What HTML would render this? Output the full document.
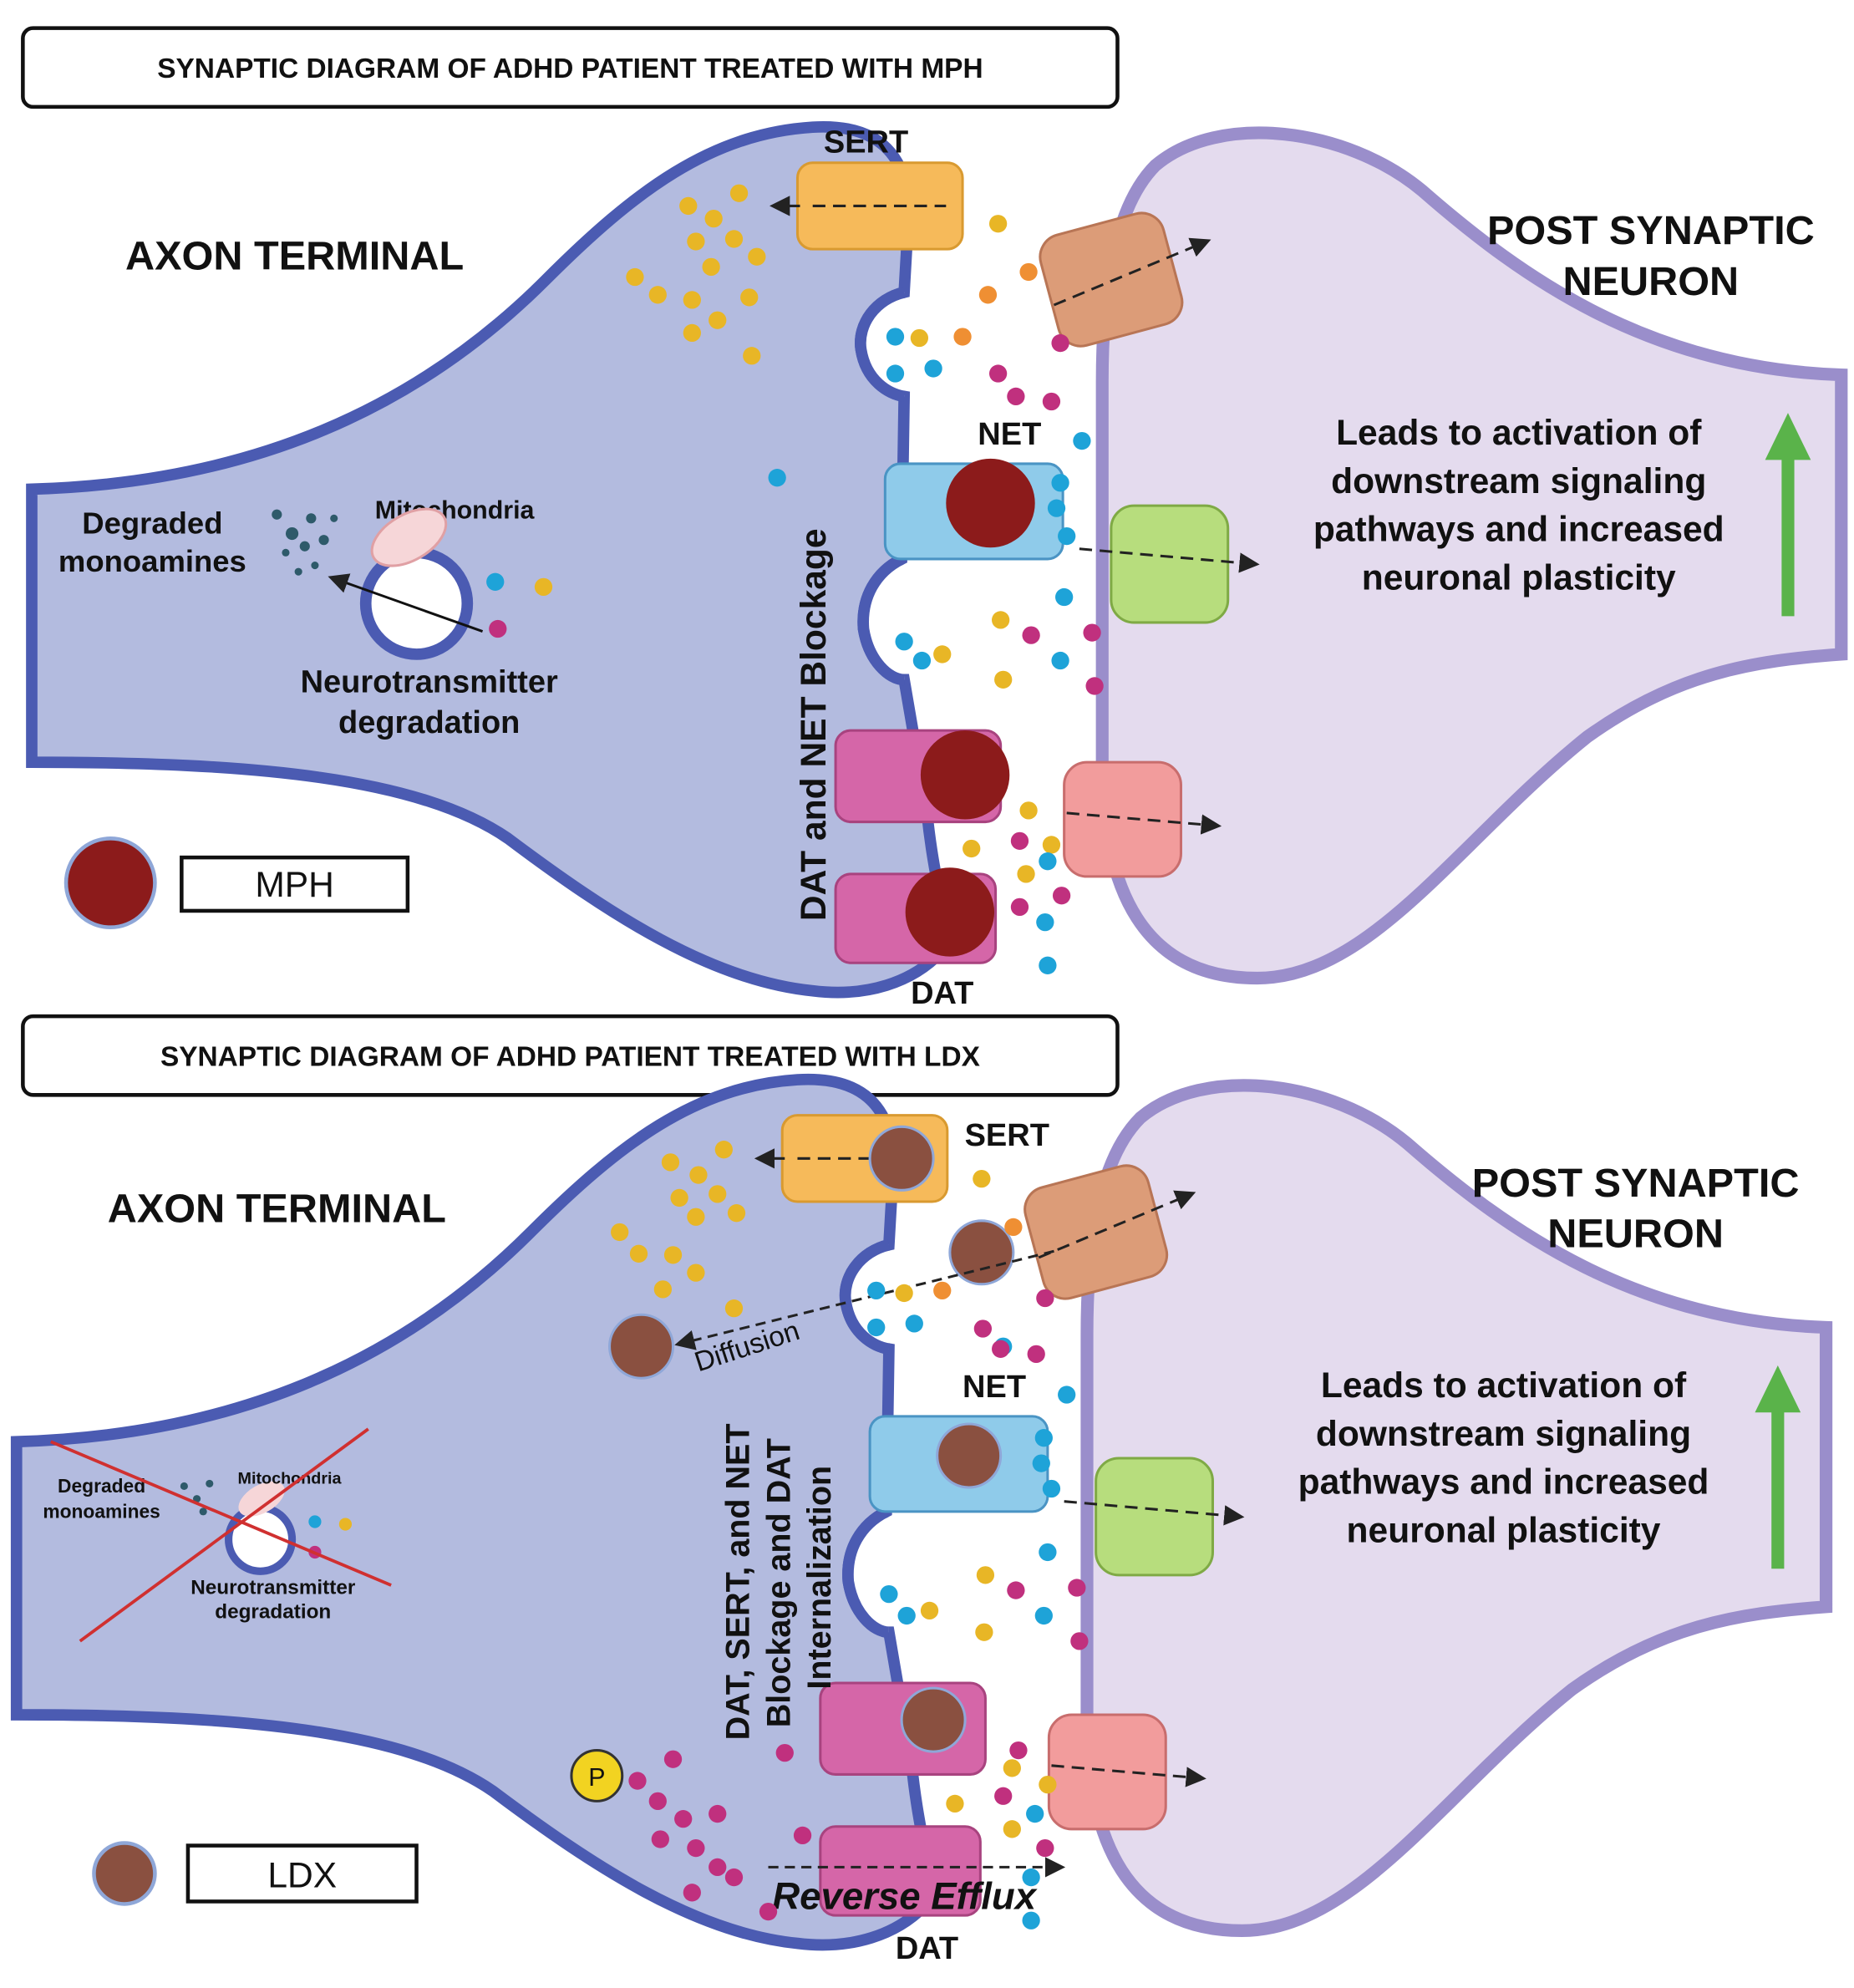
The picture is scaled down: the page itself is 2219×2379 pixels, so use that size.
<!DOCTYPE html>
<html><head><meta charset="utf-8"><style>
html,body{margin:0;padding:0;background:#fff}
svg{display:block}
text{font-family:"Liberation Sans",sans-serif;font-weight:bold;fill:#111}
</style></head><body>
<svg width="2219" height="2379" viewBox="0 0 1460 1565" xmlns="http://www.w3.org/2000/svg">
<defs>
<marker id="ah" markerWidth="8" markerHeight="8" refX="6" refY="4" orient="auto"><path d="M0,0 L8,4 L0,8 Z" fill="#222"/></marker>
<g id="axon">
<path d="M25,385 C200,380 330,320 430,220 C500,150 560,105 640,100 C690,97 712,120 716,160 L712,230 C690,235 675,255 678,275 C682,300 700,310 712,312 L710,440 C690,450 678,470 680,495 C684,520 700,535 712,535 L730,640 C735,690 745,720 745,745 C720,775 680,785 640,780 C560,772 480,720 400,660 C330,612 200,600 25,600 Z" fill="#b3bbdf" stroke="#4b5bb2" stroke-width="9"/>
<path d="M712,312 C700,310 682,300 678,275 C675,255 690,235 712,230" fill="#fff" stroke="#4b5bb2" stroke-width="9"/>
<path d="M712,535 C700,535 684,520 680,495 C678,470 690,450 710,440" fill="#fff" stroke="#4b5bb2" stroke-width="9"/>
<path d="M1450,295 C1300,290 1200,220 1120,150 C1060,100 960,88 910,130 C880,160 868,220 868,300 L868,600 C868,700 900,770 990,770 C1080,770 1150,660 1250,580 C1320,530 1380,520 1450,515 Z" fill="#e4dbee" stroke="#9a8ecb" stroke-width="10"/>
</g>
<g id="transp">
<rect x="628" y="128" width="130" height="68" rx="12" fill="#f6ba5a" stroke="#d99a30" stroke-width="2"/>
<line x1="640" y1="162" x2="745" y2="162" stroke="#222" stroke-width="2" stroke-dasharray="10,6"/>
<g transform="rotate(-15 875 220)"><rect x="825" y="175" width="100" height="90" rx="18" fill="#dc9c78" stroke="#b87555" stroke-width="2"/></g>
<line x1="830" y1="240" x2="950" y2="190" stroke="#222" stroke-width="2" stroke-dasharray="10,6" marker-end="url(#ah)"/>
<rect x="697" y="365" width="140" height="75" rx="12" fill="#8fcbea" stroke="#4a94c4" stroke-width="2"/>
<rect x="875" y="398" width="92" height="92" rx="18" fill="#b7dd7d" stroke="#7faa45" stroke-width="2"/>
<line x1="850" y1="432" x2="988" y2="444" stroke="#222" stroke-width="2" stroke-dasharray="10,6" marker-end="url(#ah)"/>
<rect x="658" y="575" width="130" height="72" rx="12" fill="#d566a8" stroke="#a8437f" stroke-width="2"/>
<rect x="838" y="600" width="92" height="90" rx="18" fill="#f29c9c" stroke="#c86d6d" stroke-width="2"/>
<line x1="840" y1="640" x2="958" y2="650" stroke="#222" stroke-width="2" stroke-dasharray="10,6" marker-end="url(#ah)"/>
<rect x="658" y="688" width="126" height="70" rx="12" fill="#d566a8" stroke="#a8437f" stroke-width="2"/>
<line x1="0" y1="0" x2="0" y2="0"/>
<path d="M630,162 L610,162" stroke="#222" stroke-width="2" marker-end="url(#ah)"/>
</g>
</defs>

<!-- PANEL 1 -->
<rect x="18" y="22" width="862" height="62" rx="8" fill="#fff" stroke="#111" stroke-width="3"/>
<text x="449" y="61" font-size="22" text-anchor="middle">SYNAPTIC DIAGRAM OF ADHD PATIENT TREATED WITH MPH</text>
<use href="#axon"/>
<use href="#transp"/>
<circle cx="780" cy="396" r="35" fill="#8c1b1b"/>
<circle cx="760" cy="610" r="35" fill="#8c1b1b"/>
<circle cx="748" cy="718" r="35" fill="#8c1b1b"/>
<text x="232" y="212" font-size="32" text-anchor="middle">AXON TERMINAL</text>
<text x="1300" y="192" font-size="32" text-anchor="middle">POST SYNAPTIC</text>
<text x="1300" y="232" font-size="32" text-anchor="middle">NEURON</text>
<text x="682" y="120" font-size="25" text-anchor="middle">SERT</text>
<text x="795" y="350" font-size="25" text-anchor="middle">NET</text>
<text x="742" y="790" font-size="25" text-anchor="middle">DAT</text>
<g font-size="28"><text x="1196" y="350" text-anchor="middle">Leads to activation of</text><text x="1196" y="388" text-anchor="middle">downstream signaling</text><text x="1196" y="426" text-anchor="middle">pathways and increased</text><text x="1196" y="464" text-anchor="middle">neuronal plasticity</text></g>
<path d="M1408,485 L1408,360" stroke="#5ab34a" stroke-width="10"/><path d="M1390,362 L1408,325 L1426,362 Z" fill="#5ab34a"/>
<text transform="translate(650,725) rotate(-90)" font-size="28">DAT and NET Blockage</text>
<text x="120" y="420" font-size="24" text-anchor="middle">Degraded</text>
<text x="120" y="450" font-size="24" text-anchor="middle">monoamines</text>
<text x="358" y="408" font-size="20" text-anchor="middle">Mitochondria</text>
<text x="338" y="545" font-size="25" text-anchor="middle">Neurotransmitter</text>
<text x="338" y="577" font-size="25" text-anchor="middle">degradation</text>
<circle cx="328" cy="475" r="40" fill="#fff" stroke="#4b5bb2" stroke-width="9"/>
<ellipse cx="322" cy="423" rx="32" ry="18" transform="rotate(-30 322 423)" fill="#f6d6d8" stroke="#e0a0a4" stroke-width="2"/>
<line x1="380" y1="497" x2="262" y2="455" stroke="#111" stroke-width="2" marker-end="url(#ah)"/>
<g fill="#2e5a6a"><circle cx="218" cy="405" r="4"/><circle cx="230" cy="420" r="5"/><circle cx="245" cy="408" r="4"/><circle cx="240" cy="430" r="4"/><circle cx="225" cy="435" r="3"/><circle cx="255" cy="425" r="4"/><circle cx="248" cy="445" r="3"/><circle cx="263" cy="408" r="3"/><circle cx="235" cy="450" r="3"/></g>
<circle cx="390" cy="458" r="7" fill="#1ea3d8"/><circle cx="428" cy="462" r="7" fill="#e8b626"/><circle cx="392" cy="495" r="7" fill="#c0307e"/><circle cx="612" cy="376" r="7" fill="#1ea3d8"/>
<circle cx="87" cy="695" r="35" fill="#8c1b1b" stroke="#8fa7d8" stroke-width="3"/>
<rect x="143" y="675" width="178" height="42" fill="#fff" stroke="#111" stroke-width="3"/>
<text x="232" y="706" font-size="28" font-weight="normal" text-anchor="middle" style="font-weight:normal">MPH</text>
<g fill="#e8b626"><circle cx="542" cy="162" r="7"/><circle cx="562" cy="172" r="7"/><circle cx="582" cy="152" r="7"/><circle cx="548" cy="190" r="7"/><circle cx="578" cy="188" r="7"/><circle cx="596" cy="202" r="7"/><circle cx="500" cy="218" r="7"/><circle cx="518" cy="232" r="7"/><circle cx="545" cy="236" r="7"/><circle cx="560" cy="210" r="7"/><circle cx="590" cy="234" r="7"/><circle cx="565" cy="252" r="7"/><circle cx="545" cy="262" r="7"/><circle cx="592" cy="280" r="7"/><circle cx="786" cy="176" r="7"/><circle cx="724" cy="266" r="7"/><circle cx="788" cy="488" r="7"/><circle cx="742" cy="515" r="7"/><circle cx="790" cy="535" r="7"/><circle cx="810" cy="638" r="7"/><circle cx="808" cy="688" r="7"/><circle cx="765" cy="668" r="7"/><circle cx="828" cy="665" r="7"/></g>
<g fill="#ef8f33"><circle cx="810" cy="214" r="7"/><circle cx="778" cy="232" r="7"/><circle cx="758" cy="265" r="7"/></g>
<g fill="#1ea3d8"><circle cx="705" cy="265" r="7"/><circle cx="705" cy="294" r="7"/><circle cx="735" cy="290" r="7"/><circle cx="852" cy="347" r="7"/><circle cx="835" cy="380" r="7"/><circle cx="832" cy="400" r="7"/><circle cx="840" cy="422" r="7"/><circle cx="838" cy="470" r="7"/><circle cx="835" cy="520" r="7"/><circle cx="712" cy="505" r="7"/><circle cx="726" cy="520" r="7"/><circle cx="825" cy="678" r="7"/><circle cx="823" cy="726" r="7"/><circle cx="825" cy="760" r="7"/></g>
<g fill="#c0307e"><circle cx="835" cy="270" r="7"/><circle cx="786" cy="294" r="7"/><circle cx="800" cy="312" r="7"/><circle cx="828" cy="316" r="7"/><circle cx="812" cy="500" r="7"/><circle cx="860" cy="498" r="7"/><circle cx="862" cy="540" r="7"/><circle cx="803" cy="662" r="7"/><circle cx="836" cy="705" r="7"/><circle cx="803" cy="714" r="7"/></g>

<!-- PANEL 2 -->
<rect x="18" y="800" width="862" height="62" rx="8" fill="#fff" stroke="#111" stroke-width="3"/>
<text x="449" y="839" font-size="22" text-anchor="middle">SYNAPTIC DIAGRAM OF ADHD PATIENT TREATED WITH LDX</text>
<g transform="translate(-12,750)"><use href="#axon"/><use href="#transp"/></g>
<circle cx="710" cy="912" r="25" fill="#8a5040" stroke="#8fa7d8" stroke-width="2"/>
<circle cx="773" cy="986" r="25" fill="#8a5040" stroke="#8fa7d8" stroke-width="2"/>
<circle cx="763" cy="1146" r="25" fill="#8a5040" stroke="#8fa7d8" stroke-width="2"/>
<circle cx="735" cy="1354" r="25" fill="#8a5040" stroke="#8fa7d8" stroke-width="2"/>
<circle cx="505" cy="1060" r="25" fill="#8a5040" stroke="#8fa7d8" stroke-width="2"/>
<line x1="830" y1="985" x2="535" y2="1058" stroke="#222" stroke-width="2" stroke-dasharray="8,5" marker-end="url(#ah)"/>
<text transform="translate(550,1080) rotate(-18)" font-size="22" style="font-weight:normal">Diffusion</text>
<text x="218" y="962" font-size="32" text-anchor="middle">AXON TERMINAL</text>
<text x="1288" y="942" font-size="32" text-anchor="middle">POST SYNAPTIC</text>
<text x="1288" y="982" font-size="32" text-anchor="middle">NEURON</text>
<text x="793" y="902" font-size="25" text-anchor="middle">SERT</text>
<text x="783" y="1100" font-size="25" text-anchor="middle">NET</text>
<text x="730" y="1542" font-size="25" text-anchor="middle">DAT</text>
<g font-size="28"><text x="1184" y="1100" text-anchor="middle">Leads to activation of</text><text x="1184" y="1138" text-anchor="middle">downstream signaling</text><text x="1184" y="1176" text-anchor="middle">pathways and increased</text><text x="1184" y="1214" text-anchor="middle">neuronal plasticity</text></g>
<path d="M1400,1235 L1400,1110" stroke="#5ab34a" stroke-width="10"/><path d="M1382,1112 L1400,1075 L1418,1112 Z" fill="#5ab34a"/>
<g font-size="26"><text transform="translate(590,1370) rotate(-90)">DAT, SERT, and NET</text><text transform="translate(622,1360) rotate(-90)">Blockage and DAT</text><text transform="translate(654,1330) rotate(-90)">Internalization</text></g>
<!-- small crossed diagram -->
<circle cx="205" cy="1212" r="25" fill="#fff" stroke="#4b5bb2" stroke-width="6"/>
<ellipse cx="206" cy="1180" rx="20" ry="11" transform="rotate(-30 206 1180)" fill="#f6d6d8"/>
<g fill="#2e5a6a"><circle cx="145" cy="1170" r="3"/><circle cx="155" cy="1180" r="3"/><circle cx="165" cy="1168" r="3"/><circle cx="160" cy="1190" r="3"/></g>
<circle cx="248" cy="1198" r="5" fill="#1ea3d8"/><circle cx="272" cy="1200" r="5" fill="#e8b626"/><circle cx="248" cy="1222" r="5" fill="#c0307e"/>
<text x="80" y="1175" font-size="15" text-anchor="middle">Degraded</text>
<text x="80" y="1195" font-size="15" text-anchor="middle">monoamines</text>
<text x="228" y="1168" font-size="13" text-anchor="middle">Mitochondria</text>
<text x="215" y="1255" font-size="16" text-anchor="middle">Neurotransmitter</text>
<text x="215" y="1274" font-size="16" text-anchor="middle">degradation</text>
<line x1="40" y1="1135" x2="308" y2="1248" stroke="#d03030" stroke-width="2.5"/>
<line x1="63" y1="1292" x2="290" y2="1125" stroke="#d03030" stroke-width="2.5"/>
<circle cx="98" cy="1475" r="24" fill="#8a5040" stroke="#8fa7d8" stroke-width="3"/>
<rect x="148" y="1453" width="180" height="44" fill="#fff" stroke="#111" stroke-width="3"/>
<text x="238" y="1486" font-size="28" text-anchor="middle" style="font-weight:normal">LDX</text>
<circle cx="470" cy="1398" r="20" fill="#f2d321" stroke="#333" stroke-width="2"/>
<text x="470" y="1406" font-size="20" text-anchor="middle" style="font-weight:normal">P</text>
<line x1="605" y1="1470" x2="835" y2="1470" stroke="#222" stroke-width="2" stroke-dasharray="8,5" marker-end="url(#ah)"/>
<text x="712" y="1503" font-size="30" font-style="italic" text-anchor="middle">Reverse Efflux</text>
<g fill="#e8b626"><circle cx="528" cy="915" r="7"/><circle cx="550" cy="925" r="7"/><circle cx="570" cy="905" r="7"/><circle cx="535" cy="943" r="7"/><circle cx="565" cy="940" r="7"/><circle cx="548" cy="958" r="7"/><circle cx="580" cy="955" r="7"/><circle cx="488" cy="970" r="7"/><circle cx="503" cy="987" r="7"/><circle cx="530" cy="988" r="7"/><circle cx="548" cy="1002" r="7"/><circle cx="522" cy="1015" r="7"/><circle cx="578" cy="1030" r="7"/><circle cx="773" cy="928" r="7"/><circle cx="712" cy="1018" r="7"/><circle cx="776" cy="1240" r="7"/><circle cx="732" cy="1268" r="7"/><circle cx="775" cy="1285" r="7"/><circle cx="797" cy="1392" r="7"/><circle cx="825" cy="1405" r="7"/><circle cx="752" cy="1420" r="7"/><circle cx="797" cy="1440" r="7"/></g>
<g fill="#ef8f33"><circle cx="798" cy="966" r="7"/><circle cx="742" cy="1016" r="7"/></g>
<g fill="#1ea3d8"><circle cx="690" cy="1016" r="7"/><circle cx="690" cy="1045" r="7"/><circle cx="720" cy="1042" r="7"/><circle cx="840" cy="1098" r="7"/><circle cx="822" cy="1132" r="7"/><circle cx="820" cy="1152" r="7"/><circle cx="828" cy="1172" r="7"/><circle cx="825" cy="1222" r="7"/><circle cx="822" cy="1272" r="7"/><circle cx="700" cy="1255" r="7"/><circle cx="714" cy="1272" r="7"/><circle cx="815" cy="1428" r="7"/><circle cx="812" cy="1478" r="7"/><circle cx="812" cy="1512" r="7"/><circle cx="790" cy="1060" r="7"/></g>
<g fill="#c0307e"><circle cx="823" cy="1022" r="7"/><circle cx="774" cy="1046" r="7"/><circle cx="788" cy="1062" r="7"/><circle cx="816" cy="1066" r="7"/><circle cx="800" cy="1252" r="7"/><circle cx="848" cy="1250" r="7"/><circle cx="850" cy="1292" r="7"/><circle cx="802" cy="1378" r="7"/><circle cx="790" cy="1414" r="7"/><circle cx="823" cy="1455" r="7"/><circle cx="618" cy="1380" r="7"/><circle cx="530" cy="1385" r="7"/><circle cx="502" cy="1402" r="7"/><circle cx="518" cy="1418" r="7"/><circle cx="538" cy="1432" r="7"/><circle cx="565" cy="1428" r="7"/><circle cx="520" cy="1448" r="7"/><circle cx="548" cy="1455" r="7"/><circle cx="565" cy="1470" r="7"/><circle cx="578" cy="1478" r="7"/><circle cx="545" cy="1490" r="7"/><circle cx="632" cy="1445" r="7"/><circle cx="605" cy="1505" r="7"/></g>
</svg>
</body></html>
